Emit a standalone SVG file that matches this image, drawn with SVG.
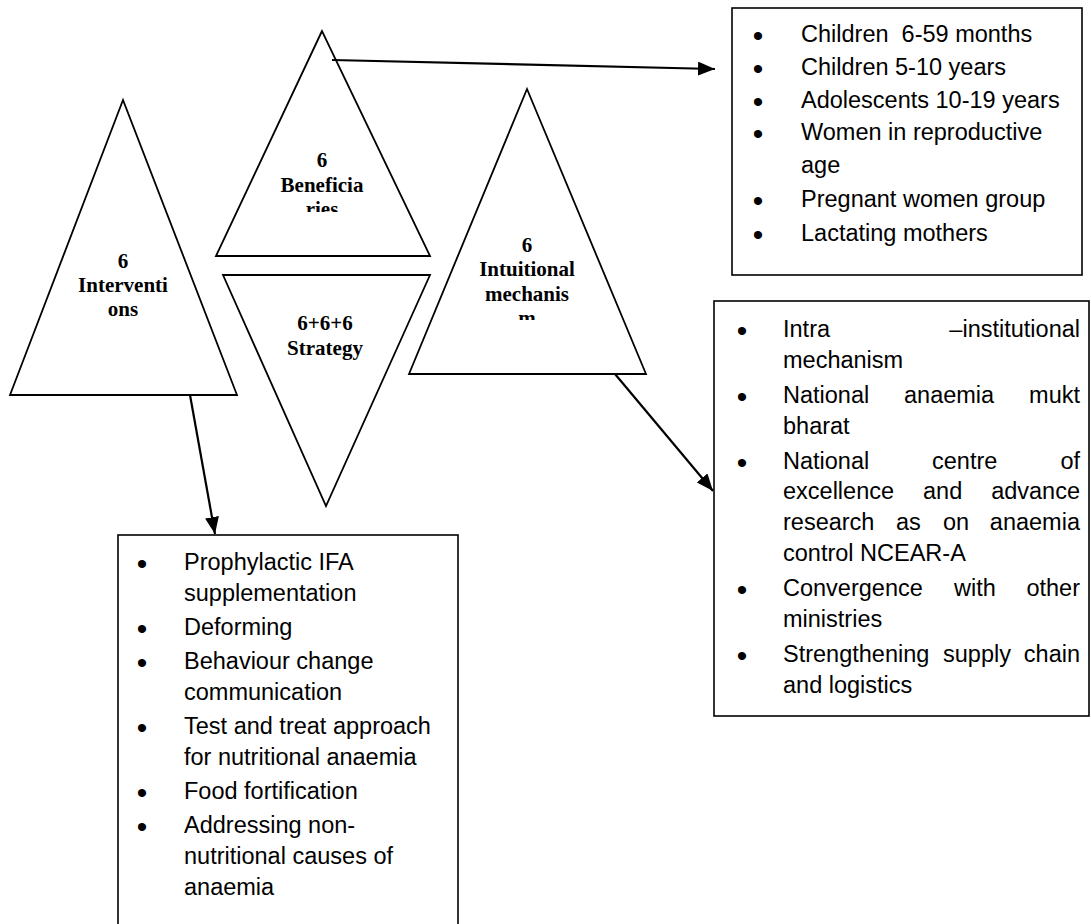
<svg xmlns="http://www.w3.org/2000/svg" width="1091" height="924" viewBox="0 0 1091 924">
<style>
.tri{fill:#fff;stroke:#000;stroke-width:1.8;stroke-linejoin:miter}
.box{fill:#fff;stroke:#000;stroke-width:1.6}
.tl{font-family:"Liberation Serif","Times New Roman",serif;font-weight:bold;font-size:21px;fill:#000;text-anchor:middle}
.bt{font-family:"Liberation Sans",Arial,sans-serif;font-size:23.5px;fill:#000;white-space:pre}
.bu{font-family:"Liberation Sans",Arial,sans-serif;font-size:30px;fill:#000;text-anchor:middle}
.e{text-anchor:end}
.con{stroke:#000;stroke-width:2.2;fill:none}
</style>
<defs>
<marker id="ah" markerUnits="userSpaceOnUse" markerWidth="18" markerHeight="14" refX="17" refY="7" orient="auto">
<path d="M0,0 L17,7 L0,14 z" fill="#000"/>
</marker>
<clipPath id="cb"><rect x="200" y="20" width="250" height="192"/></clipPath>
<clipPath id="ci"><rect x="400" y="80" width="260" height="240"/></clipPath>
</defs>

<g id="node-interventions">
<polygon class="tri" points="123,100 10,395 237,395"/>
<text class="tl" x="123" y="268">6</text>
<text class="tl" x="123" y="292">Interventi</text>
<text class="tl" x="123" y="316">ons</text>
</g>

<g id="node-beneficiaries">
<polygon class="tri" points="322,31 216,256 430,256"/>
<g clip-path="url(#cb)">
<text class="tl" x="322" y="167">6</text>
<text class="tl" x="322" y="192">Beneficia</text>
<text class="tl" x="322" y="216">ries</text>
</g>
</g>

<g id="node-strategy">
<polygon class="tri" points="223,275 430,275 326,506"/>
<text class="tl" x="325" y="330">6+6+6</text>
<text class="tl" x="325" y="355">Strategy</text>
</g>

<g id="node-institutional">
<polygon class="tri" points="527,89 409,374 646,374"/>
<g clip-path="url(#ci)">
<text class="tl" x="527" y="252">6</text>
<text class="tl" x="527" y="276">Intuitional</text>
<text class="tl" x="527" y="301">mechanis</text>
<text class="tl" x="527" y="325">m</text>
</g>
</g>

<g id="box-beneficiaries">
<rect class="box" x="732" y="8" width="350" height="267"/>
<text class="bu" x="758" y="46">•</text>
<text class="bt" x="801" y="42">Children  6-59 months</text>
<text class="bu" x="758" y="79">•</text>
<text class="bt" x="801" y="75">Children 5-10 years</text>
<text class="bu" x="758" y="112">•</text>
<text class="bt" x="801" y="108">Adolescents 10-19 years</text>
<text class="bu" x="758" y="144">•</text>
<text class="bt" x="801" y="140">Women in reproductive</text>
<text class="bt" x="801" y="173">age</text>
<text class="bu" x="758" y="211">•</text>
<text class="bt" x="801" y="207">Pregnant women group</text>
<text class="bu" x="758" y="245">•</text>
<text class="bt" x="801" y="241">Lactating mothers</text>
</g>

<g id="box-institutional">
<rect class="box" x="714" y="301" width="375" height="415"/>
<text class="bu" x="742" y="341">•</text>
<text class="bt" x="783" y="337">Intra</text>
<text class="bt e" x="1080" y="337">–institutional</text>
<text class="bt" x="783" y="368">mechanism</text>
<text class="bu" x="742" y="407">•</text>
<text class="bt" x="783" y="403">National</text>
<text class="bt" x="904" y="403">anaemia</text>
<text class="bt e" x="1080" y="403">mukt</text>
<text class="bt" x="783" y="434">bharat</text>
<text class="bu" x="742" y="473">•</text>
<text class="bt" x="783" y="469">National</text>
<text class="bt" x="932" y="469">centre</text>
<text class="bt e" x="1080" y="469">of</text>
<text class="bt" x="783" y="499">excellence</text>
<text class="bt" x="923" y="499">and</text>
<text class="bt e" x="1080" y="499">advance</text>
<text class="bt" x="783" y="530">research</text>
<text class="bt" x="896" y="530">as</text>
<text class="bt" x="943" y="530">on</text>
<text class="bt e" x="1080" y="530">anaemia</text>
<text class="bt" x="783" y="561">control NCEAR-A</text>
<text class="bu" x="742" y="600">•</text>
<text class="bt" x="783" y="596">Convergence</text>
<text class="bt" x="954" y="596">with</text>
<text class="bt e" x="1080" y="596">other</text>
<text class="bt" x="783" y="627">ministries</text>
<text class="bu" x="742" y="666">•</text>
<text class="bt" x="783" y="662">Strengthening</text>
<text class="bt" x="943" y="662">supply</text>
<text class="bt e" x="1080" y="662">chain</text>
<text class="bt" x="783" y="693">and logistics</text>
</g>

<g id="box-interventions">
<rect class="box" x="118" y="535" width="340" height="420"/>
<text class="bu" x="142" y="574">•</text>
<text class="bt" x="184" y="570">Prophylactic IFA</text>
<text class="bt" x="184" y="601">supplementation</text>
<text class="bu" x="142" y="639">•</text>
<text class="bt" x="184" y="635">Deforming</text>
<text class="bu" x="142" y="673">•</text>
<text class="bt" x="184" y="669">Behaviour change</text>
<text class="bt" x="184" y="700">communication</text>
<text class="bu" x="142" y="738">•</text>
<text class="bt" x="184" y="734">Test and treat approach</text>
<text class="bt" x="184" y="765">for nutritional anaemia</text>
<text class="bu" x="142" y="803">•</text>
<text class="bt" x="184" y="799">Food fortification</text>
<text class="bu" x="142" y="837">•</text>
<text class="bt" x="184" y="833">Addressing non-</text>
<text class="bt" x="184" y="864">nutritional causes of</text>
<text class="bt" x="184" y="895">anaemia</text>
</g>

<g id="connectors">
<line class="con" x1="332" y1="60" x2="715" y2="69" marker-end="url(#ah)"/>
<line class="con" x1="190" y1="395" x2="215" y2="534" marker-end="url(#ah)"/>
<line class="con" x1="615" y1="374" x2="713" y2="491" marker-end="url(#ah)"/>
</g>
</svg>
